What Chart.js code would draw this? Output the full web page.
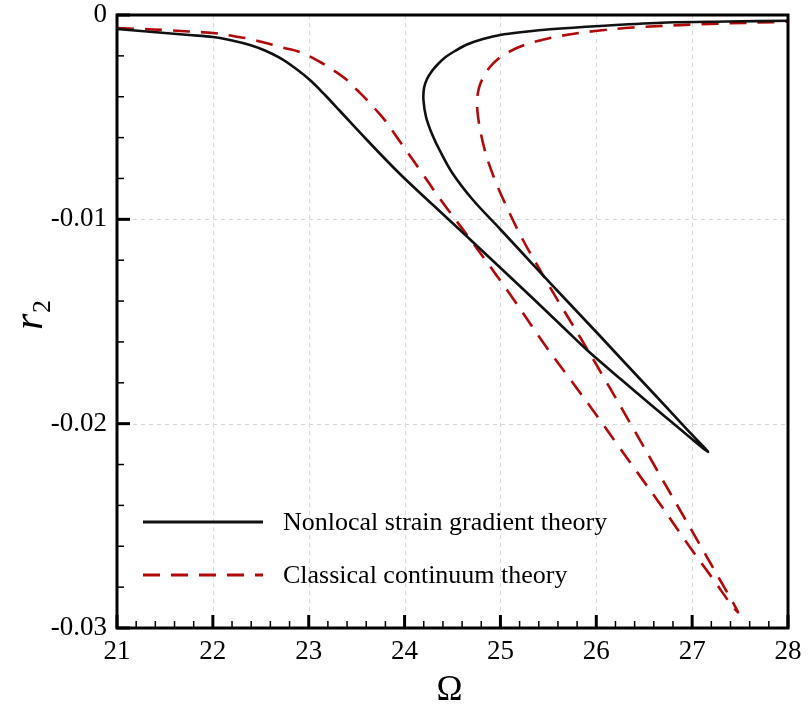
<!DOCTYPE html>
<html>
<head>
<meta charset="utf-8">
<script src="https://cdn.jsdelivr.net/npm/chart.js@4.4.1/dist/chart.umd.min.js"></script>
<style>
html,body{margin:0;padding:0;background:#fff;}
#wrap{width:809px;height:706px;position:relative;}
</style>
</head>
<body>
<div id="wrap"><canvas id="c"></canvas></div>
<script>
// ---- data ----
const seriesLabels = ['Nonlocal strain gradient theory', 'Classical continuum theory'];
const xTickLabels = ['21','22','23','24','25','26','27','28'];
const yTickLabels = ['-0.03','-0.02','-0.01','0'];

// Nonlocal strain gradient theory: descending branch to the tip, then return branch
const nsgOmega = [21.000,21.250,21.501,21.751,22.001,22.200,22.387,22.544,22.700,22.857,23.013,23.170,23.326,23.608,23.952,24.297,24.651,24.996,25.340,25.695,25.903,26.247,26.560,26.873,27.165,
                  26.926,26.613,26.300,26.039,25.695,25.340,24.996,24.714,24.505,24.370,24.286,24.224,24.197,24.203,24.234,24.286,24.349,24.422,24.526,24.651,24.818,24.996,25.256,25.517,26.039,26.738,27.364,28.000];
const nsgR2    = [-0.000685,-0.000783,-0.000881,-0.000979,-0.001077,-0.001248,-0.001468,-0.001737,-0.002104,-0.002594,-0.003181,-0.003915,-0.004698,-0.006118,-0.007781,-0.009299,-0.010840,-0.012357,-0.013874,-0.015465,-0.016395,-0.017790,-0.019038,-0.020261,-0.021387,
                  -0.020178,-0.018597,-0.017031,-0.015710,-0.013997,-0.012211,-0.010473,-0.009054,-0.007781,-0.006656,-0.005824,-0.004992,-0.004160,-0.003573,-0.003132,-0.002741,-0.002398,-0.002080,-0.001762,-0.001444,-0.001175,-0.000979,-0.000822,-0.000700,-0.000538,-0.000367,-0.000318,-0.000279];

// Classical continuum theory
const cctOmega = [21.000,21.250,21.501,21.751,22.001,22.200,22.387,22.544,22.700,22.909,23.118,23.253,23.399,23.504,23.608,23.712,23.817,23.900,23.984,24.161,24.370,24.651,25.069,25.486,25.726,26.008,26.216,26.425,26.665,26.946,27.218,27.395,27.478,
                  27.291,27.082,26.873,26.633,26.383,26.112,25.861,25.621,25.413,25.235,25.100,24.964,24.870,24.818,24.776,24.756,24.776,24.818,24.891,24.975,25.069,25.183,25.308,25.465,25.621,25.987,26.383,27.082,28.000];
const cctR2    = [-0.000636,-0.000685,-0.000734,-0.000808,-0.000881,-0.001018,-0.001175,-0.001361,-0.001566,-0.001811,-0.002300,-0.002692,-0.003181,-0.003671,-0.004160,-0.004698,-0.005286,-0.005848,-0.006411,-0.007586,-0.009005,-0.010767,-0.013459,-0.016297,-0.017814,-0.019625,-0.020995,-0.022366,-0.023932,-0.025840,-0.027602,-0.028777,-0.029217,
                  -0.027651,-0.025938,-0.024225,-0.022268,-0.020212,-0.018010,-0.016003,-0.014144,-0.012480,-0.011011,-0.009739,-0.008320,-0.007145,-0.006264,-0.005286,-0.004307,-0.003573,-0.003083,-0.002545,-0.002153,-0.001860,-0.001591,-0.001370,-0.001189,-0.001028,-0.000783,-0.000612,-0.000455,-0.000328];

const toPts = (xs, ys) => xs.map((x, i) => ({x: x, y: ys[i]}));

const SERIF = '"Liberation Serif", "DejaVu Serif", serif';
const RED = '#b20a0a';

const decorPlugin = {
  id: 'decor',
  beforeDatasetsDraw(chart) {
    const {ctx, chartArea: a, scales: {x, y}} = chart;
    ctx.save();
    ctx.strokeStyle = '#d8d8d8';
    ctx.lineWidth = 1;
    ctx.setLineDash([4, 4]);
    for (let v = 22; v <= 27; v++) {
      const px = Math.round(x.getPixelForValue(v)) + 0.5;
      ctx.beginPath(); ctx.moveTo(px, a.top); ctx.lineTo(px, a.bottom); ctx.stroke();
    }
    [-0.01, -0.02].forEach(v => {
      const py = Math.round(y.getPixelForValue(v)) + 0.5;
      ctx.beginPath(); ctx.moveTo(a.left, py); ctx.lineTo(a.right, py); ctx.stroke();
    });
    ctx.restore();
  },
  afterDatasetsDraw(chart) {
    const {ctx, chartArea: a, scales: {x, y}} = chart;
    ctx.save();
    ctx.setLineDash([]);
    ctx.strokeStyle = '#000';
    // minor ticks
    ctx.lineWidth = 1.5;
    for (let i = 0; i <= 35; i++) {
      if (i % 5 === 0) continue;
      const px = x.getPixelForValue(21 + i * 0.2);
      ctx.beginPath(); ctx.moveTo(px, a.bottom); ctx.lineTo(px, a.bottom - 7); ctx.stroke();
    }
    for (let i = 0; i <= 15; i++) {
      if (i % 5 === 0) continue;
      const py = y.getPixelForValue(-i * 0.002);
      ctx.beginPath(); ctx.moveTo(a.left, py); ctx.lineTo(a.left + 7, py); ctx.stroke();
    }
    // major ticks
    ctx.lineWidth = 3;
    for (let v = 21; v <= 28; v++) {
      const px = x.getPixelForValue(v);
      ctx.beginPath(); ctx.moveTo(px, a.bottom); ctx.lineTo(px, a.bottom - 13); ctx.stroke();
    }
    for (let i = 0; i <= 3; i++) {
      const py = y.getPixelForValue(-i * 0.01);
      ctx.beginPath(); ctx.moveTo(a.left, py); ctx.lineTo(a.left + 13, py); ctx.stroke();
    }
    // frame
    ctx.lineWidth = 3;
    ctx.strokeRect(a.left, a.top, a.right - a.left, a.bottom - a.top);

    // legend
    const ds = chart.data.datasets;
    const rows = [522, 575];
    ds.forEach((d, i) => {
      ctx.beginPath();
      ctx.strokeStyle = d.borderColor;
      ctx.lineWidth = 2.8;
      ctx.setLineDash(d.borderDash || []);
      ctx.moveTo(143, rows[i]); ctx.lineTo(263, rows[i]); ctx.stroke();
      ctx.setLineDash([]);
      ctx.fillStyle = '#000';
      ctx.font = '26px ' + SERIF;
      ctx.textAlign = 'left';
      ctx.textBaseline = 'middle';
      ctx.fillText(d.label, 283, rows[i] + 1);
    });

    // axis titles
    ctx.fillStyle = '#000';
    ctx.font = '35px ' + SERIF;
    ctx.textAlign = 'center';
    ctx.textBaseline = 'alphabetic';
    ctx.fillText('\u03A9', (a.left + a.right) / 2 - 3, 700);

    ctx.save();
    ctx.translate(42, 322);
    ctx.rotate(-Math.PI / 2);
    ctx.textAlign = 'left';
    ctx.font = 'italic 42px ' + SERIF;
    ctx.fillText('r', -8, 0);
    ctx.font = '26px ' + SERIF;
    ctx.fillText('2', 9, 8);
    ctx.restore();
    ctx.restore();
  }
};

new Chart(document.getElementById('c'), {
  type: 'scatter',
  data: {
    datasets: [
      {label: seriesLabels[0], data: toPts(nsgOmega, nsgR2), showLine: true, borderColor: '#111', borderWidth: 2.6,
       pointRadius: 0, tension: 0.35, fill: false},
      {label: seriesLabels[1], data: toPts(cctOmega, cctR2), showLine: true, borderColor: RED, borderWidth: 2.6,
       borderDash: [17, 11], pointRadius: 0, tension: 0.35, fill: false}
    ]
  },
  options: {
    responsive: true,
    maintainAspectRatio: false,
    animation: false,
    devicePixelRatio: 1,
    layout: {padding: {top: 15, right: 21, left: 0, bottom: 0}},
    plugins: {legend: {display: false}, tooltip: {enabled: false}},
    scales: {
      x: {
        type: 'linear', min: 21, max: 28,
        grid: {display: false, drawTicks: false},
        border: {display: false},
        ticks: {stepSize: 1, padding: 10, color: '#000',
          font: {family: SERIF, size: 27, lineHeight: 1},
          callback: (v) => xTickLabels[Math.round(v - 21)]},
        afterFit: (s) => { s.height = 78; s.paddingLeft = 0; s.paddingRight = 0; s.paddingTop = 0; s.paddingBottom = 0; }
      },
      y: {
        type: 'linear', min: -0.03, max: 0,
        grid: {display: false, drawTicks: false},
        border: {display: false},
        ticks: {stepSize: 0.01, padding: 10, color: '#000',
          font: {family: SERIF, size: 27, lineHeight: 1},
          callback: (v) => yTickLabels[Math.round(v / 0.01 + 3)]},
        afterFit: (s) => { s.width = 117; s.paddingLeft = 0; s.paddingRight = 0; s.paddingTop = 0; s.paddingBottom = 0; }
      }
    }
  },
  plugins: [decorPlugin]
});
</script>
</body>
</html>
